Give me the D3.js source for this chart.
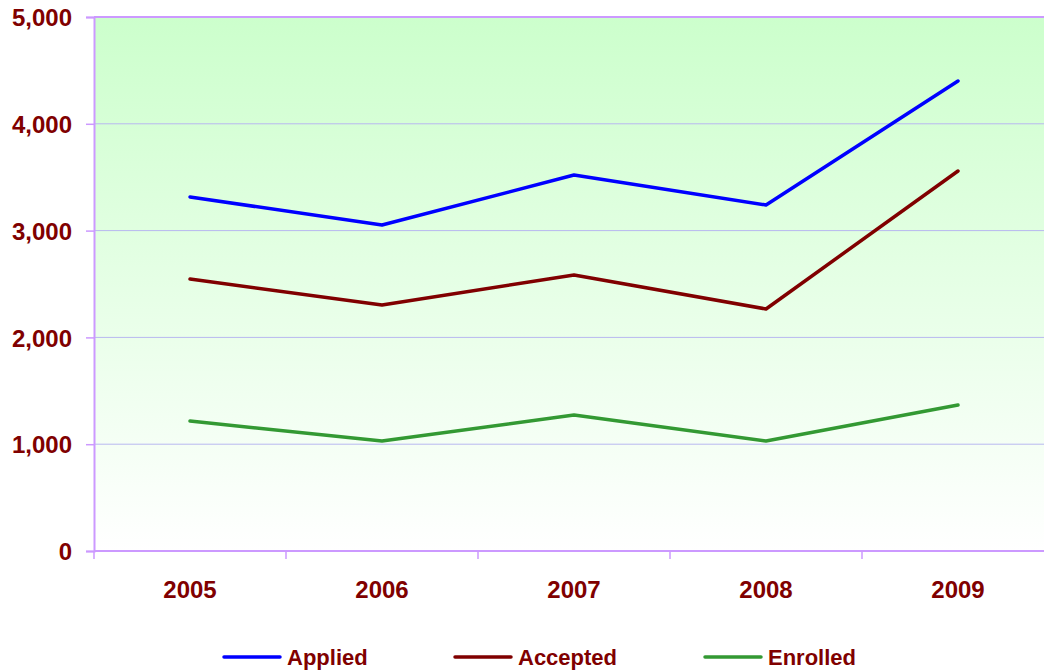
<!DOCTYPE html>
<html>
<head>
<meta charset="utf-8">
<script src="https://cdn.jsdelivr.net/npm/d3@7"></script>
<style>
  html, body { margin: 0; padding: 0; background: #fff; }
  svg { display: block; }
</style>
</head>
<body>
<svg id="chart" width="1044" height="671"></svg>
<script>
const years = ["2005", "2006", "2007", "2008", "2009"];
const applied = [3315, 3052, 3520, 3240, 4401];
const accepted = [2547, 2303, 2584, 2266, 3558];
const enrolled = [1217, 1030, 1273, 1030, 1367];
const yTicks = [0, 1000, 2000, 3000, 4000, 5000];
const seriesNames = ["Applied", "Accepted", "Enrolled"];
const seriesColors = ["#0000ff", "#800000", "#339933"];

const series = [applied, accepted, enrolled].map((vals, i) => ({
  name: seriesNames[i], color: seriesColors[i], values: vals
}));

const svg = d3.select("#chart");
const pLeft = 94, pTop = 17, pBottom = 551, pRight = 1054;

const x = d3.scaleBand().domain(years).range([pLeft, pRight]).padding(0);
const y = d3.scaleLinear().domain([0, 5000]).range([pBottom, pTop]);

const defs = svg.append("defs");
const grad = defs.append("linearGradient").attr("id", "bg")
  .attr("x1", 0).attr("y1", 0).attr("x2", 0).attr("y2", 1);
grad.append("stop").attr("offset", "0%").attr("stop-color", "#ccffcc");
grad.append("stop").attr("offset", "100%").attr("stop-color", "#ffffff");

svg.append("rect").attr("x", pLeft).attr("y", pTop)
  .attr("width", pRight - pLeft).attr("height", pBottom - pTop)
  .attr("fill", "url(#bg)");

// gridlines
svg.append("g").selectAll("line").data(yTicks.filter(d => d > 0 && d < 5000)).join("line")
  .attr("x1", pLeft).attr("x2", pRight)
  .attr("y1", d => y(d)).attr("y2", d => y(d))
  .attr("stroke", "#b8b8f0").attr("stroke-width", 1);

// top border
svg.append("line").attr("x1", pLeft).attr("x2", pRight)
  .attr("y1", y(5000)).attr("y2", y(5000))
  .attr("stroke", "#cc99ff").attr("stroke-width", 2);

// Y axis
const yAxis = svg.append("g").attr("transform", `translate(${pLeft},0)`)
  .call(d3.axisLeft(y).tickValues(yTicks).tickSize(8).tickPadding(14)
    .tickFormat(d3.format(",")));
yAxis.select(".domain").attr("stroke", "#cc99ff").attr("stroke-width", 2);
yAxis.selectAll(".tick line").attr("stroke", "#cc99ff").attr("stroke-width", 1.5);
yAxis.selectAll(".tick text")
  .attr("fill", "#800000")
  .attr("dy", "0.36em")
  .style("font-family", "'Liberation Sans', Arial, sans-serif")
  .style("font-weight", "bold").style("font-size", "24px");

// X axis
const xAxis = svg.append("g").attr("transform", `translate(0,${pBottom})`)
  .call(d3.axisBottom(x).tickSize(0).tickPadding(30));
xAxis.select(".domain").remove();
svg.append("line").attr("x1", pLeft).attr("x2", pRight)
  .attr("y1", pBottom).attr("y2", pBottom)
  .attr("stroke", "#cc99ff").attr("stroke-width", 2);
xAxis.selectAll(".tick text")
  .attr("fill", "#800000")
  .style("font-family", "'Liberation Sans', Arial, sans-serif")
  .style("font-weight", "bold").style("font-size", "24px");
// category boundary ticks
const bounds = years.map(d => x(d)).concat([x(years[years.length - 1]) + x.bandwidth()]);
svg.append("g").selectAll("line").data(bounds).join("line")
  .attr("x1", d => d).attr("x2", d => d)
  .attr("y1", pBottom).attr("y2", pBottom + 8)
  .attr("stroke", "#cc99ff").attr("stroke-width", 1.5);

// lines
const line = d3.line()
  .x((d, i) => x(years[i]) + x.bandwidth() / 2)
  .y(d => y(d));
svg.append("g").selectAll("path").data(series).join("path")
  .attr("d", d => line(d.values))
  .attr("fill", "none")
  .attr("stroke", d => d.color)
  .attr("stroke-width", 3.5)
  .attr("stroke-linejoin", "round")
  .attr("stroke-linecap", "round");

// legend
const legendX = [224, 455, 705];
const lg = svg.append("g").selectAll("g").data(series).join("g")
  .attr("transform", (d, i) => `translate(${legendX[i]},657)`);
lg.append("line").attr("x1", 0).attr("x2", 56).attr("y1", 0).attr("y2", 0)
  .attr("stroke", d => d.color).attr("stroke-width", 3.5)
  .attr("stroke-linecap", "round");
lg.append("text").attr("x", 63).attr("y", 7.5)
  .text(d => d.name)
  .attr("fill", "#800000")
  .style("font-family", "'Liberation Sans', Arial, sans-serif")
  .style("font-weight", "bold").style("font-size", "22px");
</script>
</body>
</html>
